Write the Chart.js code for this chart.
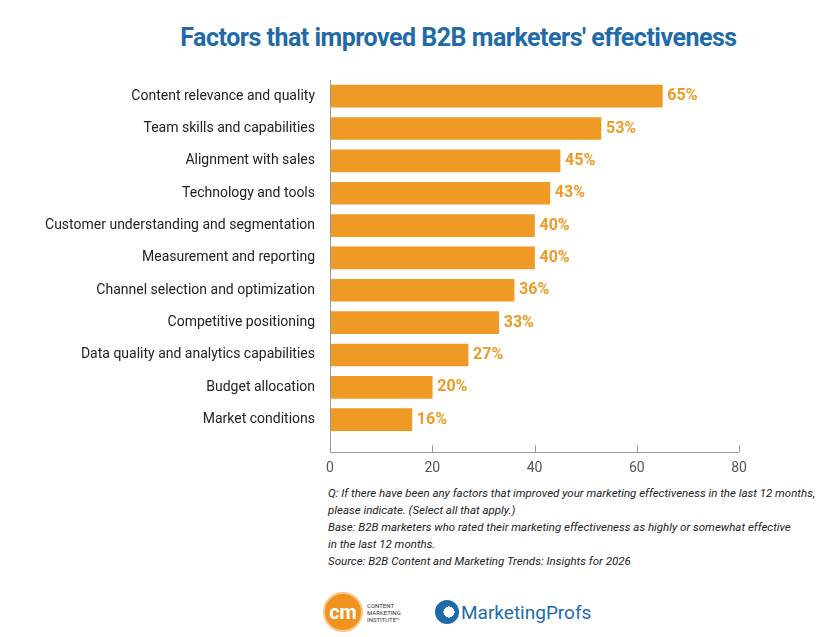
<!DOCTYPE html>
<html>
<head>
<meta charset="utf-8">
<script src="https://cdn.jsdelivr.net/npm/chart.js@4"></script>
<style>
  body { margin: 0; background: #fff; font-family: Roboto, sans-serif; }
  #wrap { position: relative; width: 827px; height: 637px; }
  #title { position: absolute; top: 23px; left: 0; width: 917px; text-align: center;
           font: bold 25px Roboto, sans-serif; color: #1f6aa8; letter-spacing: -0.5px; }
  #chart { position: absolute; top: 0; left: 0; }
  #notes { position: absolute; top: 485px; left: 328px; font: italic 11.5px Roboto, sans-serif;
           line-height: 17px; color: #222; }
  #logos { position: absolute; top: 592px; left: 323px; display: flex; align-items: center; }
  .cm { width: 36px; height: 36px; border-radius: 50%; background: #f0921e; border: 2px solid #f6c88a;
        color: #fff; font: bold 20px Roboto, sans-serif; display: flex; align-items: center; justify-content: center; }
  .cmi { font: 6px Roboto, sans-serif; color: #333; line-height: 7px; margin-left: 4px; width: 50px; }
  .mp { display: flex; align-items: center; margin-left: 18px; font: 19px Roboto, sans-serif; color: #1f6aa8; }
  .mpi { width: 20px; height: 20px; border-radius: 50%; border: 2px solid #1f6aa8; margin-right: 2px;
         background: radial-gradient(circle at 60% 50%, #fff 35%, #1f6aa8 36%); }
</style>
</head>
<body>
<div id="wrap">
  <div id="title">Factors that improved B2B marketers' effectiveness</div>
  <canvas id="chart" width="827" height="482"></canvas>
  <div id="notes">
    Q: If there have been any factors that improved your marketing effectiveness in the last 12 months,<br>
    please indicate. (Select all that apply.)<br>
    Base: B2B marketers who rated their marketing effectiveness as highly or somewhat effective<br>
    in the last 12 months.<br>
    Source: B2B Content and Marketing Trends: Insights for 2026
  </div>
  <div id="logos">
    <div class="cm">cm</div>
    <div class="cmi">CONTENT<br>MARKETING<br>INSTITUTE&trade;</div>
    <div class="mp"><div class="mpi"></div>MarketingProfs</div>
  </div>
</div>
<script>
// ---------------- data
const factors = [
  "Content relevance and quality",
  "Team skills and capabilities",
  "Alignment with sales",
  "Technology and tools",
  "Customer understanding and segmentation",
  "Measurement and reporting",
  "Channel selection and optimization",
  "Competitive positioning",
  "Data quality and analytics capabilities",
  "Budget allocation",
  "Market conditions"
];
const shares = [65, 53, 45, 43, 40, 40, 36, 33, 27, 20, 16];
const xTicks = [0, 20, 40, 60, 80];

const ORANGE = "#ee9a24";
const AXIS = "#9a9a9a";

// value labels at the end of each bar
const valueLabels = {
  id: "valueLabels",
  afterDatasetsDraw(chart) {
    const ctx = chart.ctx;
    ctx.save();
    ctx.font = "bold 16px Roboto, sans-serif";
    ctx.fillStyle = ORANGE;
    ctx.textBaseline = "middle";
    chart.getDatasetMeta(0).data.forEach((bar, i) => {
      ctx.fillText(shares[i] + "%", bar.x + 5, bar.y);
    });
    ctx.restore();
  }
};

// axis lines with upward tick marks
const axisLines = {
  id: "axisLines",
  afterDraw(chart) {
    const { ctx, chartArea: a, scales: { x } } = chart;
    ctx.save();
    ctx.strokeStyle = AXIS;
    ctx.lineWidth = 1;
    ctx.beginPath();
    ctx.moveTo(a.left + 0.5, a.top);
    ctx.lineTo(a.left + 0.5, a.bottom + 0.5);
    ctx.lineTo(a.right, a.bottom + 0.5);
    xTicks.forEach(v => {
      const px = Math.round(x.getPixelForValue(v)) + 0.5;
      ctx.moveTo(px, a.bottom);
      ctx.lineTo(px, a.bottom - 7);
    });
    ctx.stroke();
    ctx.restore();
  }
};

new Chart(document.getElementById("chart"), {
  type: "bar",
  data: {
    datasets: [{
      data: shares.map((v, i) => ({ x: v, y: i })),
      backgroundColor: ORANGE,
      barThickness: 22
    }]
  },
  plugins: [valueLabels, axisLines],
  options: {
    indexAxis: "y",
    responsive: false,
    animation: false,
    layout: { padding: { top: 80, right: 88, left: 0, bottom: 0 } },
    plugins: { legend: { display: false }, tooltip: { enabled: false } },
    scales: {
      x: {
        type: "linear",
        min: 0, max: 80,
        afterBuildTicks: s => { s.ticks = xTicks.map(v => ({ value: v })); },
        afterFit: s => { s.height = 30; },
        grid: { display: false },
        border: { display: false },
        ticks: { color: "#555", font: { size: 14, family: "Roboto" }, padding: 0 }
      },
      y: {
        type: "linear",
        reverse: true,
        offset: false,
        min: -0.5, max: 11,
        afterBuildTicks: s => { s.ticks = factors.map((_, i) => ({ value: i })); },
        afterFit: s => { s.width = 330; },
        grid: { display: false },
        border: { display: false },
        ticks: {
          color: "#222",
          font: { size: 14, family: "Roboto" },
          padding: 7,
          callback: v => factors[v]
        }
      }
    }
  }
});
</script>
</body>
</html>
